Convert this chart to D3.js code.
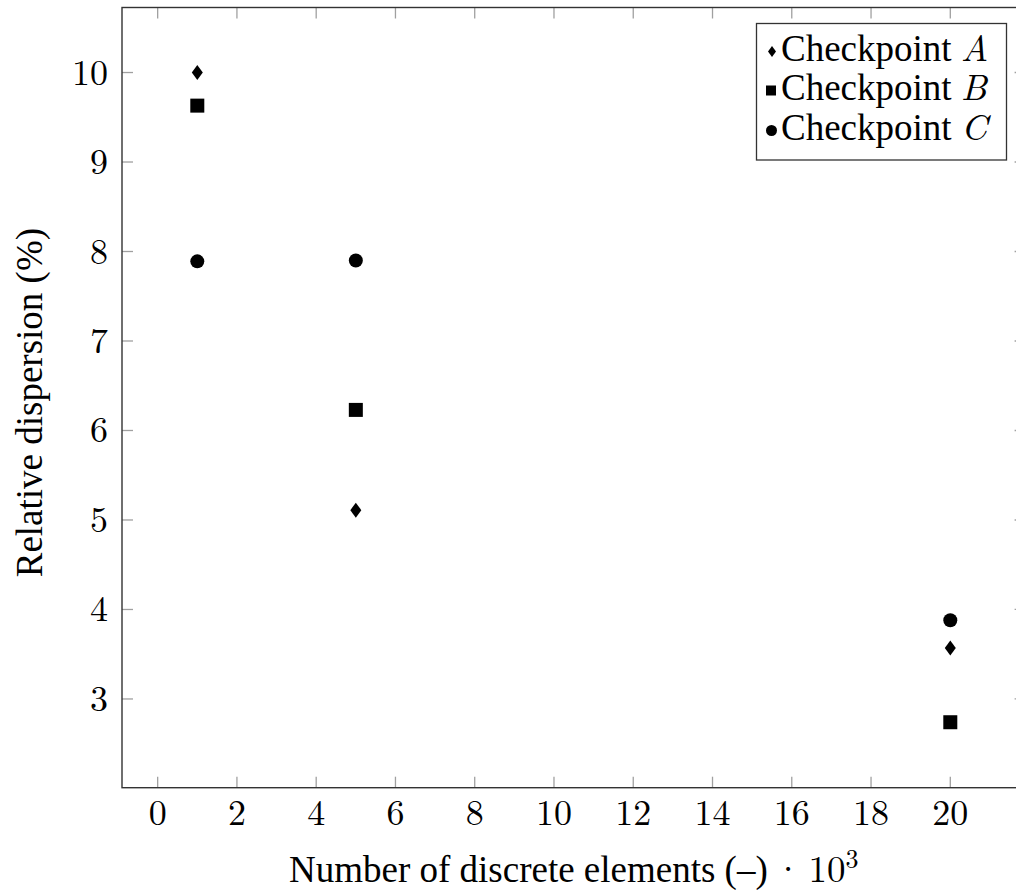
<!DOCTYPE html>
<html>
<head>
<meta charset="utf-8">
<script src="https://cdn.jsdelivr.net/npm/d3@7"></script>
<style>
  html, body { margin: 0; padding: 0; background: #fff; }
  svg { display: block; }
</style>
</head>
<body>
<svg id="chart" width="1016" height="890"></svg>
<script>
const seriesNames = ["Checkpoint A", "Checkpoint B", "Checkpoint C"];
const seriesLetters = ["A", "B", "C"];
const xValues = [1, 5, 20];
const seriesA = [10.0, 5.11, 3.57];
const seriesB = [9.63, 6.23, 2.74];
const seriesC = [7.89, 7.90, 3.88];
const xTicks = [0, 2, 4, 6, 8, 10, 12, 14, 16, 18, 20];
const yTicks = [3, 4, 5, 6, 7, 8, 9, 10];

const TEXT_FONT = "'Liberation Serif'";
const MATH_FONT = "'Latin Modern Roman'";

const svg = d3.select("#chart");
const pL = 122, pT = 7.5, pR = 1025.6, pB = 787.7;

const x = d3.scaleLinear().domain([-0.9, 21.9]).range([pL, pR]);
const y = d3.scaleLinear().domain([2.0085, 10.7265]).range([pB, pT]);

// ticks (inner, mirrored)
const tickLen = 11;
const tickColor = "#a0a0a0";
const g = svg.append("g");
xTicks.forEach(t => {
  g.append("line").attr("x1", x(t)).attr("x2", x(t)).attr("y1", pB).attr("y2", pB - tickLen)
    .attr("stroke", tickColor).attr("stroke-width", 1.3);
  g.append("line").attr("x1", x(t)).attr("x2", x(t)).attr("y1", pT).attr("y2", pT + tickLen)
    .attr("stroke", tickColor).attr("stroke-width", 1.3);
  g.append("text").attr("x", x(t)).attr("y", 825).attr("text-anchor", "middle")
    .attr("font-family", MATH_FONT).attr("font-size", 36).text(t);
});
yTicks.forEach(t => {
  g.append("line").attr("x1", pL).attr("x2", pL + tickLen).attr("y1", y(t)).attr("y2", y(t))
    .attr("stroke", tickColor).attr("stroke-width", 1.3);
  g.append("line").attr("x1", pR).attr("x2", pR - tickLen).attr("y1", y(t)).attr("y2", y(t))
    .attr("stroke", tickColor).attr("stroke-width", 1.3);
  g.append("text").attr("x", 108).attr("y", y(t) + 12).attr("text-anchor", "end")
    .attr("font-family", MATH_FONT).attr("font-size", 36).text(t);
});

// frame
svg.append("rect").attr("x", pL).attr("y", pT).attr("width", pR - pL).attr("height", pB - pT)
  .attr("fill", "none").attr("stroke", "#333").attr("stroke-width", 1.4);

// markers
const diamond = (cx, cy, w, h) => `M${cx},${cy - h/2}L${cx + w/2},${cy}L${cx},${cy + h/2}L${cx - w/2},${cy}Z`;
const marks = svg.append("g");
xValues.forEach((xv, i) => {
  marks.append("path").attr("d", diamond(x(xv), y(seriesA[i]), 11, 15)).attr("fill", "#000");
  marks.append("rect").attr("x", x(xv) - 7).attr("y", y(seriesB[i]) - 7).attr("width", 14).attr("height", 14).attr("fill", "#000");
  marks.append("circle").attr("cx", x(xv)).attr("cy", y(seriesC[i])).attr("r", 7).attr("fill", "#000");
});

// legend
const lg = svg.append("g");
lg.append("rect").attr("x", 756.5).attr("y", 23.5).attr("width", 250).attr("height", 136.5)
  .attr("fill", "#fff").attr("stroke", "#333").attr("stroke-width", 1.3);
const rowY = [61, 100, 140];
seriesNames.forEach((name, i) => {
  const cy = rowY[i] - 9.5;
  if (i === 0) lg.append("path").attr("d", diamond(772, cy, 8, 11)).attr("fill", "#000");
  if (i === 1) lg.append("rect").attr("x", 766).attr("y", cy - 5).attr("width", 10).attr("height", 10).attr("fill", "#000");
  if (i === 2) lg.append("circle").attr("cx", 771.5).attr("cy", cy).attr("r", 5.5).attr("fill", "#000");
  const t = lg.append("text").attr("x", 781).attr("y", rowY[i]).attr("font-size", 37).attr("font-family", TEXT_FONT);
  t.append("tspan").text("Checkpoint ");
  t.append("tspan").attr("font-family", MATH_FONT).attr("font-style", "italic").text(seriesLetters[i]);
});

// axis titles
const xt = svg.append("text").attr("x", (pL + pR) / 2).attr("y", 882).attr("text-anchor", "middle")
  .attr("font-size", 37).attr("font-family", TEXT_FONT);
xt.append("tspan").text("Number of discrete elements (–)");
xt.append("tspan").attr("font-family", MATH_FONT).attr("dx", 6).text("·");
xt.append("tspan").attr("font-family", MATH_FONT).attr("dx", 6).text("10");
xt.append("tspan").attr("font-family", MATH_FONT).attr("font-size", 26).attr("dy", -14).text("3");

svg.append("text").attr("transform", `translate(42,${(pT + pB) / 2 + 5}) rotate(-90)`)
  .attr("text-anchor", "middle").attr("font-size", 37).attr("font-family", TEXT_FONT).text("Relative dispersion (%)");
</script>
</body>
</html>
